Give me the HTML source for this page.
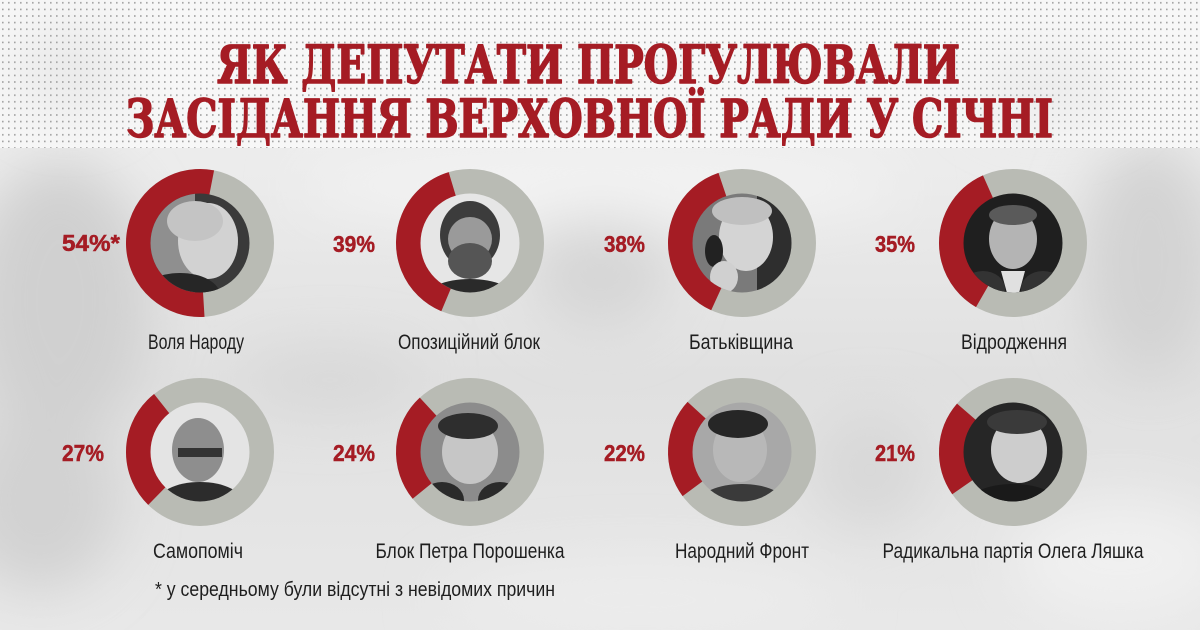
<!DOCTYPE html>
<html>
<head>
<meta charset="utf-8">
<style>
html,body{margin:0;padding:0;background:#e4e4e4;}
svg{display:block;}
</style>
</head>
<body>
<svg width="1200" height="630" viewBox="0 0 1200 630" xmlns="http://www.w3.org/2000/svg">
  <defs>
    <pattern id="dots" width="6" height="6.6" patternUnits="userSpaceOnUse">
      <rect x="2" y="2" width="1.6" height="1.6" fill="#a0a0a0"/>
    </pattern>
    <filter id="blur" x="-50%" y="-50%" width="200%" height="200%">
      <feGaussianBlur stdDeviation="28"/>
    </filter>
    <linearGradient id="bgv" x1="0" y1="0" x2="0" y2="1">
      <stop offset="0" stop-color="#f2f2f2"/>
      <stop offset="0.3" stop-color="#ebebeb"/>
      <stop offset="0.6" stop-color="#e0e0e0"/>
      <stop offset="1" stop-color="#e8e8e8"/>
    </linearGradient>
    <clipPath id="pc"><circle cx="0" cy="0" r="49.5"/></clipPath>
  </defs>

  <!-- background photo approximation -->
  <rect x="0" y="0" width="1200" height="630" fill="url(#bgv)"/>
  <g filter="url(#blur)">
    <ellipse cx="60" cy="300" rx="90" ry="140" fill="#d0d0d0"/>
    <ellipse cx="40" cy="500" rx="80" ry="90" fill="#d2d2d2"/>
    <ellipse cx="600" cy="270" rx="70" ry="60" fill="#d6d6d6"/>
    <ellipse cx="1150" cy="260" rx="70" ry="120" fill="#d3d3d3"/>
    <ellipse cx="870" cy="470" rx="60" ry="60" fill="#d8d8d8"/>
    <ellipse cx="330" cy="380" rx="90" ry="30" fill="#d8d8d8"/>
    <ellipse cx="600" cy="185" rx="300" ry="35" fill="#f3f3f3"/>
    <ellipse cx="1120" cy="560" rx="110" ry="60" fill="#f0f0f0"/>
    <ellipse cx="640" cy="600" rx="200" ry="40" fill="#ececec"/>
  </g>

  <!-- dotted header band -->
  <rect x="0" y="0" width="1200" height="148" fill="#f7f7f7"/>
  <g filter="url(#blur)" opacity="0.6">
    <ellipse cx="70" cy="70" rx="60" ry="50" fill="#e2e2e2"/>
    <ellipse cx="1050" cy="90" rx="80" ry="40" fill="#e6e6e6"/>
  </g>
  <rect x="0" y="0" width="1200" height="148" fill="url(#dots)"/>

  <!-- title -->
  <g font-family="'DejaVu Serif','Liberation Serif',serif" font-weight="bold" font-size="52" fill="#a51c24" stroke="#a51c24" stroke-width="1.6" stroke-linejoin="round">
    <text x="217" y="83" textLength="743" lengthAdjust="spacingAndGlyphs">ЯК ДЕПУТАТИ ПРОГУЛЮВАЛИ</text>
    <text x="126" y="137" textLength="927" lengthAdjust="spacingAndGlyphs">ЗАСІДАННЯ ВЕРХОВНОЇ РАДИ У СІЧНІ</text>
  </g>

  <!-- donut rings -->
  <g fill="none" stroke-width="25">
    <circle cx="200" cy="243" r="61.5" stroke="#b9bbb4"/>
    <circle cx="470" cy="243" r="61.5" stroke="#b9bbb4"/>
    <circle cx="742" cy="243" r="61.5" stroke="#b9bbb4"/>
    <circle cx="1013" cy="243" r="61.5" stroke="#b9bbb4"/>
    <circle cx="200" cy="452" r="61.5" stroke="#b9bbb4"/>
    <circle cx="470" cy="452" r="61.5" stroke="#b9bbb4"/>
    <circle cx="742" cy="452" r="61.5" stroke="#b9bbb4"/>
    <circle cx="1013" cy="452" r="61.5" stroke="#b9bbb4"/>

    <circle cx="200" cy="243" r="61.5" stroke="#a51c24" stroke-dasharray="208.67 400" transform="rotate(86.5 200 243)"/>
    <circle cx="470" cy="243" r="61.5" stroke="#a51c24" stroke-dasharray="150.70 400" transform="rotate(112.8 470 243)"/>
    <circle cx="742" cy="243" r="61.5" stroke="#a51c24" stroke-dasharray="146.84 400" transform="rotate(114.6 742 243)"/>
    <circle cx="1013" cy="243" r="61.5" stroke="#a51c24" stroke-dasharray="135.25 400" transform="rotate(120 1013 243)"/>
    <circle cx="200" cy="452" r="61.5" stroke="#a51c24" stroke-dasharray="104.33 400" transform="rotate(134.4 200 452)"/>
    <circle cx="470" cy="452" r="61.5" stroke="#a51c24" stroke-dasharray="92.74 400" transform="rotate(140.8 470 452)"/>
    <circle cx="742" cy="452" r="61.5" stroke="#a51c24" stroke-dasharray="85.01 400" transform="rotate(143.4 742 452)"/>
    <circle cx="1013" cy="452" r="61.5" stroke="#a51c24" stroke-dasharray="81.15 400" transform="rotate(145.2 1013 452)"/>
  </g>

  <!-- portraits (stylised) -->
  <g transform="translate(200 243)" clip-path="url(#pc)">
    <rect x="-50" y="-50" width="100" height="100" fill="#3a3a3a"/>
    <rect x="-50" y="-50" width="45" height="100" fill="#8f8f8f"/>
    <ellipse cx="8" cy="-2" rx="30" ry="38" fill="#d2d2d2"/>
    <ellipse cx="-5" cy="-22" rx="28" ry="20" fill="#c4c4c4"/>
    <ellipse cx="-20" cy="52" rx="40" ry="22" fill="#262626"/>
  </g>
  <g transform="translate(470 243)" clip-path="url(#pc)">
    <rect x="-50" y="-50" width="100" height="100" fill="#e6e6e6"/>
    <ellipse cx="0" cy="-8" rx="30" ry="34" fill="#3c3c3c"/>
    <ellipse cx="0" cy="-4" rx="22" ry="22" fill="#9a9a9a"/>
    <ellipse cx="0" cy="18" rx="22" ry="18" fill="#555"/>
    <ellipse cx="0" cy="56" rx="46" ry="20" fill="#2a2a2a"/>
  </g>
  <g transform="translate(742 243)" clip-path="url(#pc)">
    <rect x="-50" y="-50" width="100" height="100" fill="#7a7a7a"/>
    <rect x="15" y="-50" width="40" height="100" fill="#2e2e2e"/>
    <ellipse cx="4" cy="-6" rx="27" ry="34" fill="#d4d4d4"/>
    <ellipse cx="0" cy="-32" rx="30" ry="14" fill="#c0c0c0"/>
    <ellipse cx="-28" cy="8" rx="9" ry="16" fill="#222"/>
    <ellipse cx="-18" cy="34" rx="14" ry="16" fill="#d0d0d0"/>
  </g>
  <g transform="translate(1013 243)" clip-path="url(#pc)">
    <rect x="-50" y="-50" width="100" height="100" fill="#1f1f1f"/>
    <ellipse cx="0" cy="-4" rx="24" ry="30" fill="#b4b4b4"/>
    <ellipse cx="0" cy="-28" rx="24" ry="10" fill="#5a5a5a"/>
    <polygon points="-12,28 12,28 6,50 -6,50" fill="#e0e0e0"/>
    <ellipse cx="-30" cy="46" rx="22" ry="18" fill="#333"/>
    <ellipse cx="30" cy="46" rx="22" ry="18" fill="#333"/>
  </g>
  <g transform="translate(200 452)" clip-path="url(#pc)">
    <rect x="-50" y="-50" width="100" height="100" fill="#e4e4e4"/>
    <ellipse cx="-2" cy="-2" rx="26" ry="32" fill="#8e8e8e"/>
    <rect x="-22" y="-4" width="44" height="9" fill="#333"/>
    <ellipse cx="0" cy="52" rx="44" ry="22" fill="#2c2c2c"/>
  </g>
  <g transform="translate(470 452)" clip-path="url(#pc)">
    <rect x="-50" y="-50" width="100" height="100" fill="#8c8c8c"/>
    <ellipse cx="0" cy="0" rx="28" ry="32" fill="#c6c6c6"/>
    <ellipse cx="-2" cy="-26" rx="30" ry="13" fill="#2e2e2e"/>
    <ellipse cx="-28" cy="48" rx="22" ry="18" fill="#2a2a2a"/>
    <ellipse cx="30" cy="48" rx="22" ry="18" fill="#2a2a2a"/>
  </g>
  <g transform="translate(742 452)" clip-path="url(#pc)">
    <rect x="-50" y="-50" width="100" height="100" fill="#a8a8a8"/>
    <ellipse cx="-2" cy="-2" rx="27" ry="32" fill="#b8b8b8"/>
    <ellipse cx="-4" cy="-28" rx="30" ry="14" fill="#262626"/>
    <ellipse cx="0" cy="52" rx="44" ry="20" fill="#3a3a3a"/>
  </g>
  <g transform="translate(1013 452)" clip-path="url(#pc)">
    <rect x="-50" y="-50" width="100" height="100" fill="#262626"/>
    <ellipse cx="6" cy="-2" rx="28" ry="33" fill="#cdcdcd"/>
    <ellipse cx="4" cy="-30" rx="30" ry="12" fill="#3a3a3a"/>
    <ellipse cx="0" cy="52" rx="46" ry="20" fill="#1a1a1a"/>
  </g>

  <!-- percentage labels -->
  <g font-family="'Liberation Sans',Arial,sans-serif" font-weight="bold" font-size="23" fill="#a51c24" stroke="#a51c24" stroke-width="0.5">
    <text x="62" y="251" textLength="58" lengthAdjust="spacingAndGlyphs">54%*</text>
    <text x="333" y="252" textLength="42" lengthAdjust="spacingAndGlyphs">39%</text>
    <text x="604" y="252" textLength="41" lengthAdjust="spacingAndGlyphs">38%</text>
    <text x="875" y="252" textLength="40" lengthAdjust="spacingAndGlyphs">35%</text>
    <text x="62" y="461" textLength="42" lengthAdjust="spacingAndGlyphs">27%</text>
    <text x="333" y="461" textLength="42" lengthAdjust="spacingAndGlyphs">24%</text>
    <text x="604" y="461" textLength="41" lengthAdjust="spacingAndGlyphs">22%</text>
    <text x="875" y="461" textLength="40" lengthAdjust="spacingAndGlyphs">21%</text>
  </g>

  <!-- party names -->
  <g font-family="'Liberation Sans Narrow','Liberation Sans',Arial,sans-serif" font-size="21" fill="#1e1e1e" text-anchor="middle">
    <text x="196" y="349" textLength="96" lengthAdjust="spacingAndGlyphs">Воля Народу</text>
    <text x="469" y="349" textLength="142" lengthAdjust="spacingAndGlyphs">Опозиційний блок</text>
    <text x="741" y="349" textLength="104" lengthAdjust="spacingAndGlyphs">Батьківщина</text>
    <text x="1014" y="349" textLength="106" lengthAdjust="spacingAndGlyphs">Відродження</text>
    <text x="198" y="558" textLength="90" lengthAdjust="spacingAndGlyphs">Самопоміч</text>
    <text x="470" y="558" textLength="189" lengthAdjust="spacingAndGlyphs">Блок Петра Порошенка</text>
    <text x="742" y="558" textLength="134" lengthAdjust="spacingAndGlyphs">Народний Фронт</text>
    <text x="1013" y="558" textLength="261" lengthAdjust="spacingAndGlyphs">Радикальна партія Олега Ляшка</text>
  </g>

  <!-- footnote -->
  <text x="155" y="596" font-family="'Liberation Sans Narrow','Liberation Sans',Arial,sans-serif" font-size="20" fill="#1e1e1e" textLength="400" lengthAdjust="spacingAndGlyphs">* у середньому були відсутні з невідомих причин</text>
</svg>
</body>
</html>
